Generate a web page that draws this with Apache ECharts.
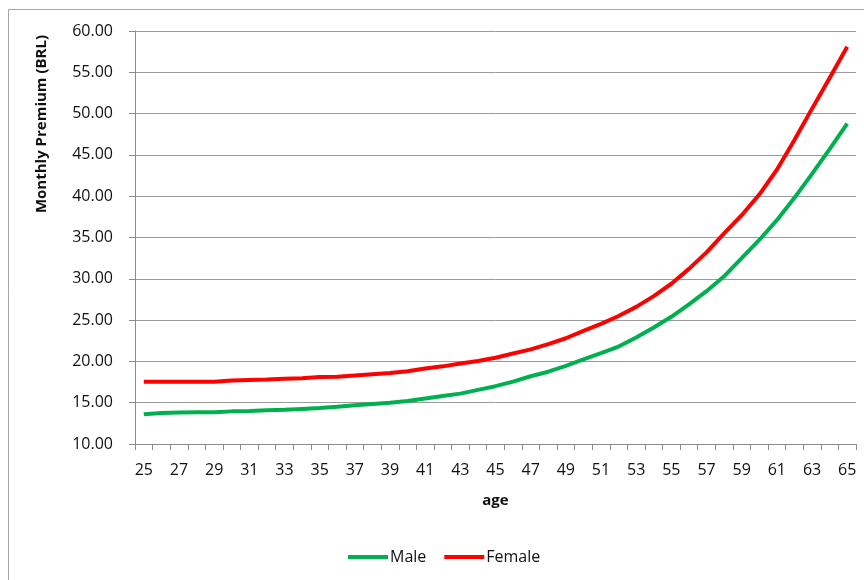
<!DOCTYPE html>
<html>
<head>
<meta charset="utf-8">
<script src="https://cdn.jsdelivr.net/npm/echarts@6/dist/echarts.min.js"></script>
<style>html,body{margin:0;padding:0;background:#fff}#chart{width:864px;height:580px}</style>
</head>
<body>
<div id="chart"></div>
<script>
const ages = [25,26,27,28,29,30,31,32,33,34,35,36,37,38,39,40,41,42,43,44,45,46,47,48,49,50,51,52,53,54,55,56,57,58,59,60,61,62,63,64,65];
const male = [13.6,13.75,13.8,13.85,13.85,13.95,14.0,14.1,14.15,14.25,14.35,14.5,14.7,14.85,15.0,15.2,15.5,15.8,16.1,16.55,17.0,17.55,18.2,18.75,19.45,20.25,21.0,21.8,22.9,24.1,25.4,26.9,28.5,30.3,32.5,34.7,37.1,39.8,42.7,45.7,48.8];
const female = [17.55,17.55,17.55,17.55,17.55,17.7,17.75,17.8,17.9,17.95,18.1,18.15,18.3,18.45,18.6,18.8,19.15,19.4,19.75,20.05,20.45,20.95,21.45,22.1,22.8,23.7,24.55,25.5,26.6,27.9,29.4,31.2,33.2,35.5,37.7,40.2,43.2,46.8,50.6,54.3,58.1];
const seriesNames = ['Male','Female'];
const yTitle = 'Monthly Premium (BRL)';
const xTitle = 'age';

const FONT = '"Open Sans", "Liberation Sans", sans-serif';
const chart = echarts.init(document.getElementById('chart'), null, {renderer:'canvas'});
chart.setOption({
  animation: false,
  backgroundColor: '#fff',
  textStyle: {fontFamily: FONT},
  graphic: [
    {type:'rect', shape:{x:8.5, y:9.5, width:900, height:620}, style:{fill:'none', stroke:'#a6a6a6', lineWidth:1}, silent:true, z:-1},
    {type:'text', x:42, y:124, rotation:Math.PI/2, style:{text:yTitle, font:'bold 15px "Open Sans", sans-serif', fill:'#111', textAlign:'center', textVerticalAlign:'middle'}}
  ],
  grid: {left:135, right:8, top:31, bottom:136, containLabel:false},
  legend: {
    left: 343, top: 544,
    icon: 'rect', itemWidth: 40, itemHeight: 4, itemGap: 18,
    textStyle: {fontSize:16, color:'#111', fontFamily: FONT, padding:[0,0,0,-3]},
    data: seriesNames
  },
  xAxis: {
    type: 'category',
    data: ages,
    boundaryGap: true,
    name: xTitle,
    nameLocation: 'middle',
    nameGap: 49,
    nameTextStyle: {fontWeight:'bold', fontSize:15, color:'#111', fontFamily: FONT},
    axisLine: {lineStyle:{color:'#8c8c8c', width:1}},
    axisTick: {show:true, length:6, interval:0, lineStyle:{color:'#8c8c8c'}},
    axisLabel: {interval:1, margin:18, fontSize:16, color:'#111', fontFamily: FONT},
    splitLine: {show:false}
  },
  yAxis: {
    type: 'value',
    min: 10, max: 60, interval: 5,
    axisLine: {show:true, lineStyle:{color:'#8c8c8c', width:1}},
    axisTick: {show:true, length:6, lineStyle:{color:'#8c8c8c'}},
    axisLabel: {margin:22, fontSize:16, color:'#111', fontFamily: FONT, formatter: v => v.toFixed(2)},
    splitLine: {show:true, lineStyle:{color:'#9a9a9a', width:1}}
  },
  series: [
    {name:seriesNames[0], type:'line', data:male, showSymbol:false, symbol:'none', lineStyle:{color:'#00b050', width:4}, itemStyle:{color:'#00b050'}},
    {name:seriesNames[1], type:'line', data:female, showSymbol:false, symbol:'none', lineStyle:{color:'#ff0000', width:4}, itemStyle:{color:'#ff0000'}}
  ]
});
</script>
</body>
</html>
